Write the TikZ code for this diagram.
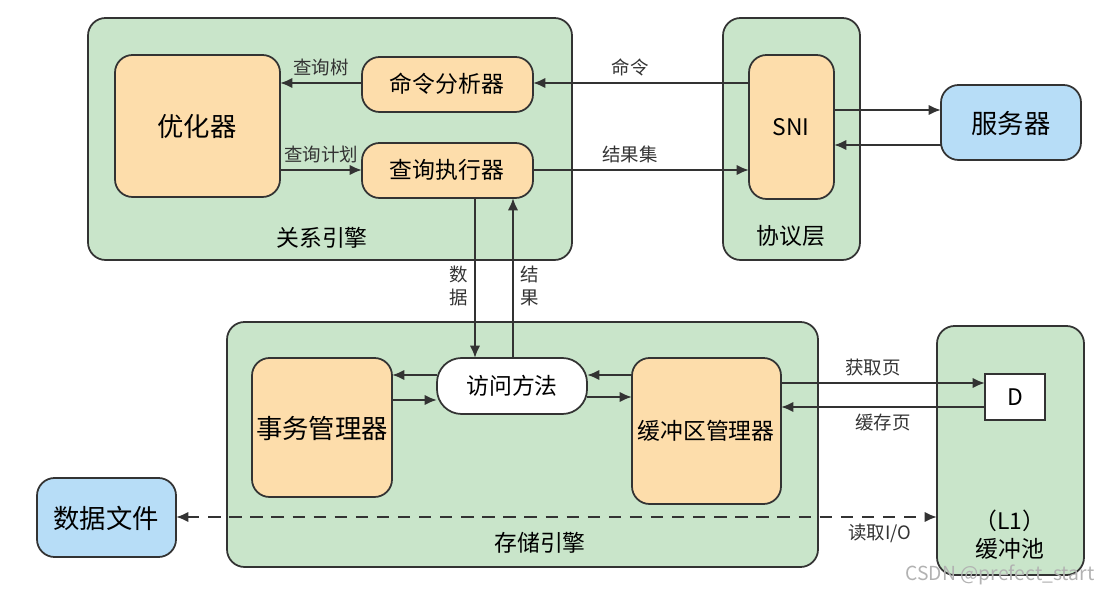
\documentclass[tikz,border=0pt]{standalone}
\usepackage{fontspec}
\setmainfont{Noto Sans CJK SC}
\usetikzlibrary{arrows.meta}
\definecolor{grn}{HTML}{C9E5CA}
\definecolor{org}{HTML}{FDDDAB}
\definecolor{blu}{HTML}{B7DDF7}
\definecolor{edge}{HTML}{333333}
\tikzset{
  x=0.02cm, y=-0.02cm,
  box/.style={draw=edge, line width=1pt, rounded corners=10pt, fill=#1},
  lbl/.style={font=\fontsize{10.5}{13}\selectfont, text=edge},
  big/.style={font=\fontsize{15}{18}\selectfont, text=black},
  mid/.style={font=\fontsize{13}{16}\selectfont, text=black},
  arr/.style={draw=edge, line width=1.3pt, -{Latex[length=7pt,width=6pt]}},
}
\begin{document}
\begin{tikzpicture}
\useasboundingbox (0,0) rectangle (1106,594);
% containers
\draw[box=grn] (88,18) rectangle (572,260);
\node[mid] (rel) at (322,238) {关系引擎};
\draw[box=grn] (723,18) rectangle (860,260);
\node[mid] (proto) at (791,236) {协议层};
\draw[box=grn] (227,322) rectangle (818,567);
\node[mid] (store) at (540,543) {存储引擎};
\draw[box=grn] (937,326) rectangle (1084,575);
\node[mid, align=center] (pooltxt) at (1010,535) {（L1）\\缓冲池};
\coordinate (poolL) at (937,517);
% nodes
\draw[box=org] (115,55) rectangle (280,197); \node[big] (opt) at (197,126) {优化器};
\coordinate (optE1) at (280,83); \coordinate (optE2) at (280,170);
\draw[box=org] (362,57) rectangle (533,112); \node[mid] (cmd) at (447,84) {命令分析器};
\coordinate (cmdW) at (362,83); \coordinate (cmdE) at (533,83);
\draw[box=org] (362,143) rectangle (533,198); \node[mid] (exe) at (447,170) {查询执行器};
\coordinate (exeW) at (362,170); \coordinate (exeE) at (533,170);
\coordinate (exeS1) at (475,198); \coordinate (exeS2) at (513,198);
\draw[box=org] (749,55) rectangle (834,199); \node[mid] (sni) at (791,127) {SNI};
\coordinate (sniW1) at (749,83); \coordinate (sniW2) at (749,170);
\coordinate (sniE1) at (834,110); \coordinate (sniE2) at (834,145);
\draw[box=blu] (941,85) rectangle (1081,160); \node[big] (srv) at (1011,123) {服务器};
\coordinate (srvW1) at (941,110); \coordinate (srvW2) at (941,145);
\draw[box=org] (252,358) rectangle (392,497); \node[big] (txn) at (322,428) {事务管理器};
\coordinate (txnE1) at (392,375); \coordinate (txnE2) at (392,400);
\draw[draw=edge, line width=1pt, rounded corners=14pt, fill=white] (437,358) rectangle (587,414);
\node[mid] (acc) at (512,386) {访问方法};
\coordinate (accW1) at (437,375); \coordinate (accW2) at (437,400);
\coordinate (accE1) at (587,375); \coordinate (accE2) at (587,397);
\coordinate (accN1) at (475,358); \coordinate (accN2) at (513,358);
\draw[box=org] (632,358) rectangle (781,504); \node[mid] (buf) at (706,431) {缓冲区管理器};
\coordinate (bufW1) at (632,375); \coordinate (bufW2) at (632,397);
\coordinate (bufE1) at (781,383); \coordinate (bufE2) at (781,407);
\draw[draw=edge, line width=1pt, fill=white] (985,374) rectangle (1045,420);
\node[mid] (d) at (1015,397) {D};
\coordinate (dW1) at (985,383); \coordinate (dW2) at (985,407);
\draw[box=blu] (37,478) rectangle (176,557); \node[big] (file) at (106,518) {数据文件};
\coordinate (fileE) at (176,517);
% connectors
\draw[arr] (sniW1) -- node[lbl, above, pos=0.55] {命令} (cmdE);
\draw[arr] (cmdW) -- node[lbl, above] {查询树} (optE1);
\draw[arr] (optE2) -- node[lbl, above] {查询计划} (exeW);
\draw[arr] (exeE) -- node[lbl, above, pos=0.45] {结果集} (sniW2);
\draw[arr] (sniE1) -- (srvW1);
\draw[arr] (srvW2) -- (sniE2);
\draw[arr] (exeS1) -- node[lbl, left, align=center, pos=0.55] {数\\据} (accN1);
\draw[arr] (accN2) -- node[lbl, right, align=center, pos=0.45] {结\\果} (exeS2);
\draw[arr] (accW1) -- (txnE1);
\draw[arr] (txnE2) -- (accW2);
\draw[arr] (bufW1) -- (accE1);
\draw[arr] (accE2) -- (bufW2);
\draw[arr] (bufE1) -- node[lbl, above, pos=0.45] {获取页} (dW1);
\draw[arr] (dW2) -- node[lbl, below, pos=0.5] {缓存页} (bufE2);
\draw[arr, {Latex[length=7pt,width=6pt]}-{Latex[length=7pt,width=6pt]}, dashed, dash pattern=on 7pt off 5pt] (fileE) -- (poolL);
\node[lbl] (io) at (880,533) {读取I/O};
\node[font=\fontsize{11}{13}\selectfont, text=gray!60] (wm) at (1000,575) {CSDN @prefect\_start};
\end{tikzpicture}
\end{document}
